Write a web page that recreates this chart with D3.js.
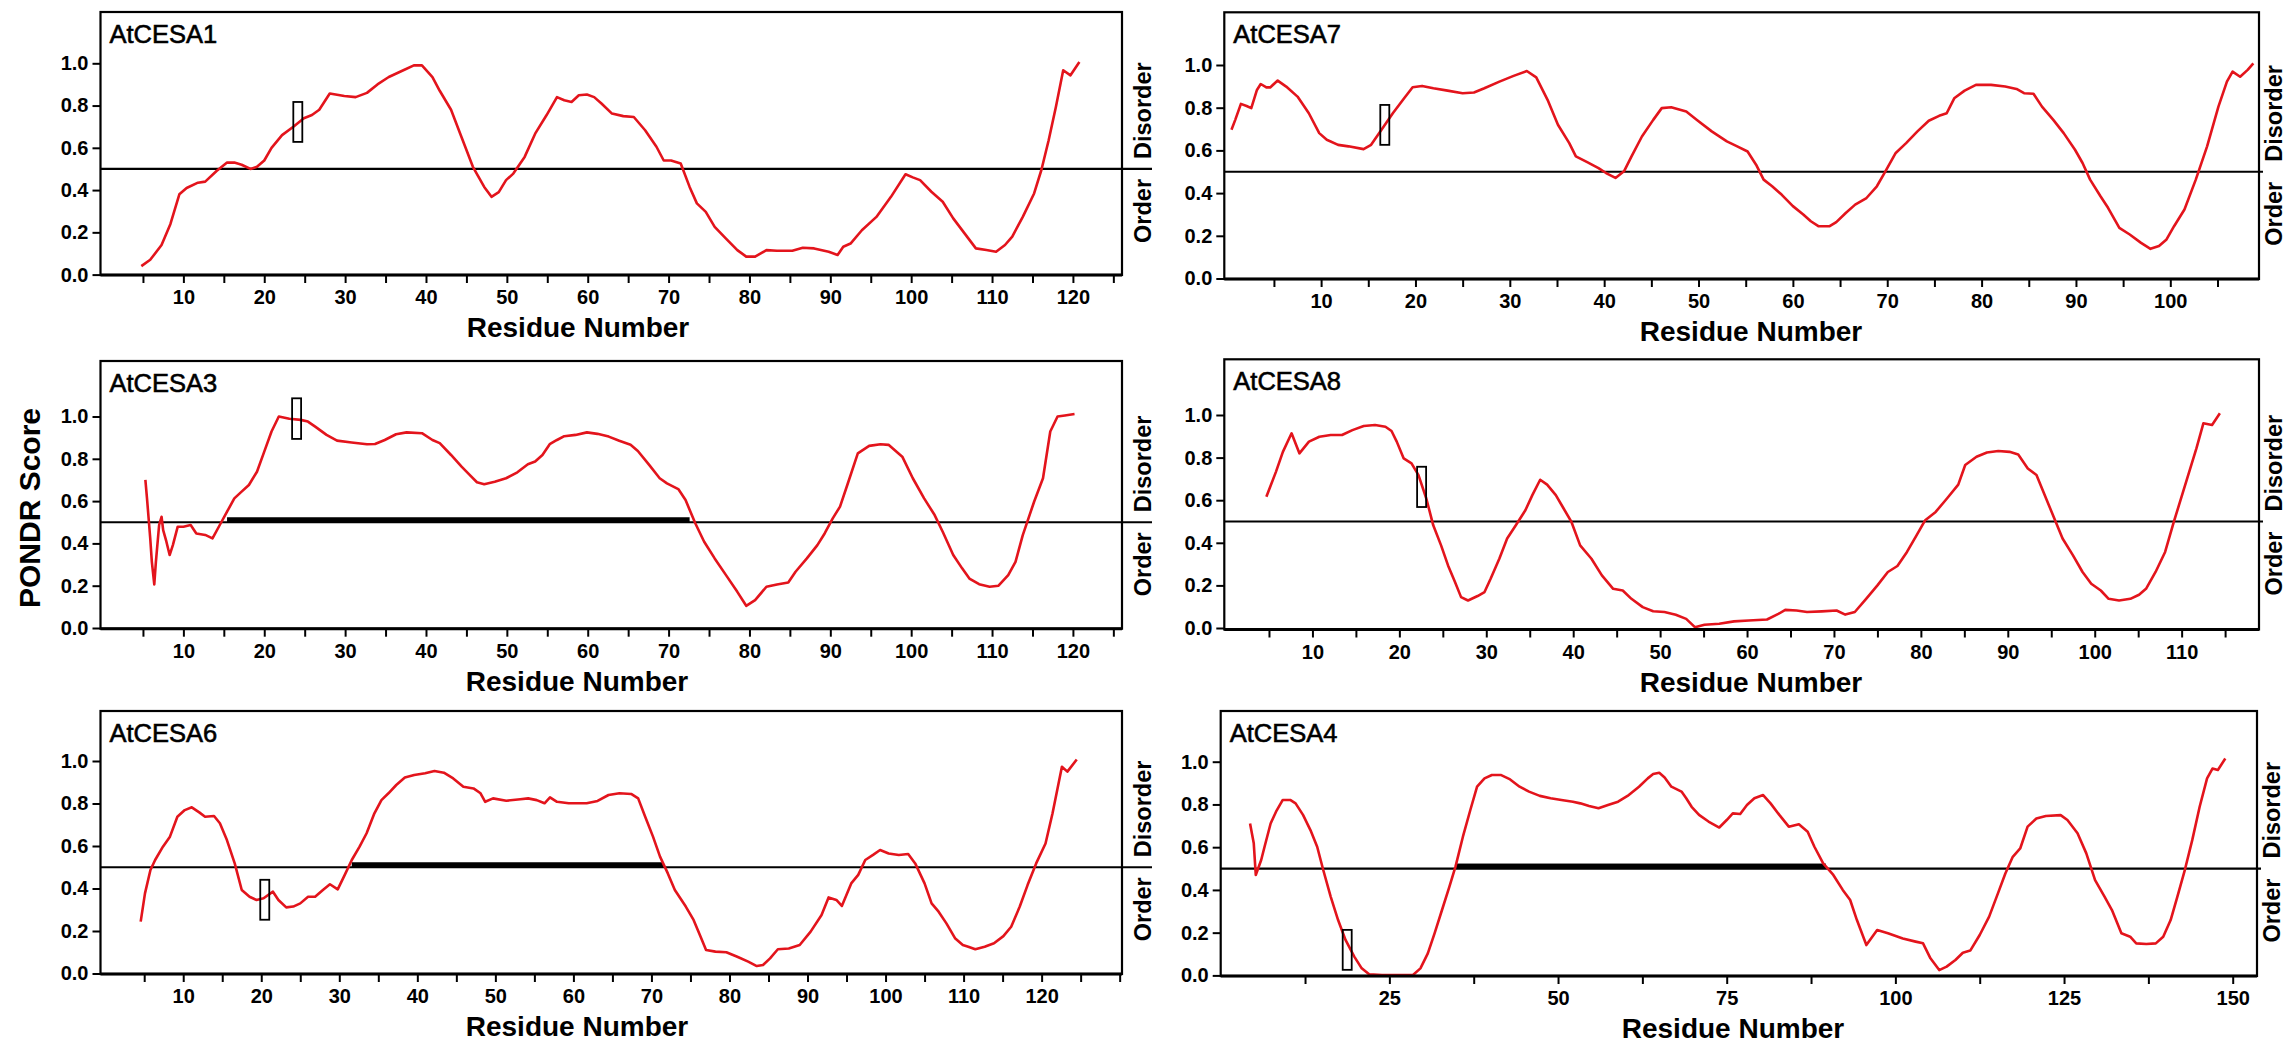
<!DOCTYPE html>
<html><head><meta charset="utf-8">
<script src="https://cdn.jsdelivr.net/npm/d3@7"></script>
<style>body{margin:0;background:#fff}svg{display:block}</style>
</head><body>
<svg id="chart" width="2288" height="1044"></svg>
<script>
// ---------------- DATA ----------------
const panelNames = ["AtCESA1", "AtCESA7", "AtCESA3", "AtCESA8", "AtCESA6", "AtCESA4"];

const cesa1 = [[4.8,0.04],[5.9,0.07],[7.3,0.14],[8.4,0.24],[9.5,0.38],[10.4,0.41],[11.8,0.435],[12.7,0.44],[14.1,0.49],[15.4,0.53],[16.3,0.53],[17.2,0.52],[18.3,0.5],[19.1,0.51],[20,0.54],[20.9,0.6],[22.2,0.66],[23.6,0.7],[24.9,0.74],[25.9,0.755],[26.8,0.78],[28.1,0.857],[29.9,0.845],[31.3,0.84],[32.7,0.86],[34,0.9],[35.4,0.935],[37.2,0.967],[38.5,0.99],[39.5,0.99],[40.8,0.935],[41.7,0.87],[43.1,0.78],[44.4,0.65],[45.8,0.51],[47.2,0.415],[48.1,0.368],[49,0.39],[49.9,0.447],[50.8,0.478],[52.2,0.557],[53.5,0.667],[54.9,0.754],[56.2,0.84],[57.1,0.825],[58,0.817],[58.9,0.849],[59.9,0.852],[60.8,0.84],[61.7,0.81],[63,0.762],[64.4,0.75],[65.7,0.746],[67.1,0.683],[68.5,0.605],[69.4,0.54],[70.3,0.54],[71.5,0.526],[72.6,0.415],[73.5,0.337],[74.6,0.297],[75.7,0.226],[77.1,0.17],[78.5,0.116],[79.6,0.085],[80.7,0.085],[82.1,0.116],[83.4,0.113],[85.3,0.113],[86.6,0.127],[88,0.124],[89.8,0.108],[90.9,0.093],[91.6,0.132],[92.5,0.147],[93.9,0.21],[95.7,0.273],[97.5,0.368],[99.3,0.475],[100.2,0.46],[101.1,0.447],[102.5,0.392],[103.9,0.345],[105.2,0.266],[106.6,0.195],[108,0.124],[109.3,0.116],[110.5,0.108],[111.6,0.14],[112.5,0.18],[113.8,0.273],[115.2,0.384],[116.1,0.495],[117,0.636],[117.9,0.794],[118.8,0.967],[119.7,0.943],[120.8,1.006]];

const cesa7 = [[0.5,0.697],[0.9,0.743],[1.5,0.818],[2.1,0.808],[2.6,0.798],[3.2,0.883],[3.6,0.911],[4.2,0.895],[4.6,0.895],[5.4,0.927],[6.3,0.899],[7.5,0.852],[8.7,0.774],[9.8,0.681],[10.6,0.65],[11.8,0.626],[12.9,0.619],[14.5,0.606],[15.3,0.626],[16.4,0.697],[17.6,0.774],[18.8,0.844],[19.7,0.896],[20.7,0.902],[21.9,0.891],[23.4,0.88],[25,0.868],[26.2,0.871],[27.3,0.891],[28.9,0.922],[30.4,0.949],[31.8,0.972],[32.8,0.942],[34,0.837],[35.1,0.72],[36.3,0.634],[37,0.572],[38.2,0.545],[39.4,0.517],[40.2,0.494],[41.2,0.471],[42.1,0.502],[42.9,0.572],[44,0.665],[45.2,0.743],[46.1,0.798],[47.1,0.802],[48.7,0.782],[49.9,0.74],[51.4,0.689],[53,0.642],[54.1,0.619],[55.2,0.595],[56.1,0.533],[56.9,0.463],[57.8,0.432],[58.8,0.393],[60,0.339],[61.1,0.3],[61.9,0.268],[62.7,0.245],[63.9,0.245],[64.6,0.264],[65.6,0.307],[66.6,0.346],[67.8,0.377],[68.9,0.432],[69.7,0.494],[70.9,0.588],[72,0.634],[73.2,0.689],[74.4,0.739],[75.5,0.762],[76.3,0.774],[77.1,0.844],[78.2,0.88],[79.4,0.907],[81,0.907],[82.5,0.899],[83.7,0.888],[84.5,0.868],[85.5,0.865],[86.4,0.805],[87.6,0.743],[88.7,0.681],[89.9,0.603],[90.7,0.541],[91.5,0.463],[92.6,0.385],[93.4,0.331],[94.6,0.237],[95.7,0.206],[96.9,0.167],[97.9,0.139],[98.8,0.152],[99.6,0.183],[100.4,0.245],[101.5,0.323],[102.7,0.463],[103.9,0.619],[105.1,0.805],[106,0.922],[106.6,0.969],[107.4,0.945],[108.2,0.977],[108.8,1.008]];

const cesa3 = [[5.3,0.7],[5.5,0.613],[5.7,0.519],[5.9,0.424],[6.1,0.313],[6.4,0.206],[6.6,0.313],[7,0.487],[7.3,0.526],[7.5,0.463],[7.9,0.408],[8.3,0.345],[8.7,0.392],[9.3,0.479],[10,0.479],[10.9,0.487],[11.6,0.447],[12.7,0.44],[13.6,0.424],[14.5,0.487],[15.4,0.55],[16.3,0.613],[17.2,0.645],[18.1,0.676],[19.1,0.739],[20,0.834],[20.9,0.929],[21.8,1.0],[23.1,0.989],[24.5,0.984],[25.4,0.976],[26.3,0.952],[27.7,0.913],[29,0.886],[30.8,0.877],[32.7,0.869],[33.7,0.87],[34.9,0.889],[36.3,0.916],[37.6,0.925],[39.5,0.921],[40.8,0.889],[41.7,0.874],[43.1,0.818],[44.4,0.763],[45.4,0.724],[46.3,0.689],[47.2,0.68],[48.5,0.692],[49.9,0.708],[51.3,0.736],[52.6,0.774],[53.5,0.787],[54.4,0.818],[55.3,0.869],[56.2,0.889],[57.1,0.907],[58.5,0.913],[59.9,0.925],[61.2,0.918],[62.6,0.905],[63.9,0.885],[65.3,0.866],[66.2,0.837],[67.6,0.771],[68.9,0.708],[69.8,0.684],[71.2,0.657],[72.1,0.605],[73.3,0.495],[74.4,0.408],[75.7,0.329],[77.1,0.25],[78.5,0.171],[79.6,0.105],[80.7,0.132],[82.1,0.195],[83.4,0.206],[84.8,0.215],[85.7,0.266],[87.1,0.329],[88.4,0.392],[89.3,0.447],[90.3,0.518],[91.2,0.574],[92.1,0.676],[93.4,0.826],[94.8,0.861],[96.2,0.869],[97.2,0.866],[98.9,0.81],[100.2,0.708],[101.6,0.613],[102.9,0.534],[103.9,0.455],[105.2,0.345],[106.3,0.282],[107.2,0.234],[108.4,0.207],[109.7,0.195],[110.8,0.2],[112,0.25],[112.9,0.313],[113.8,0.439],[115.2,0.597],[116.3,0.708],[117.2,0.929],[118.1,1.0],[119,1.005],[120.2,1.012]];

const cesa8 = [[4.7,0.616],[5.8,0.733],[6.6,0.827],[7.6,0.914],[8.5,0.82],[9.6,0.875],[10.8,0.898],[12.1,0.906],[13.4,0.906],[14.6,0.929],[15.9,0.948],[17.2,0.953],[18.4,0.945],[19.1,0.925],[19.7,0.875],[20.5,0.796],[21.4,0.773],[22.2,0.718],[23.1,0.608],[23.9,0.482],[24.8,0.388],[25.6,0.294],[26.4,0.216],[27.1,0.145],[27.9,0.129],[29,0.15],[29.8,0.169],[30.5,0.231],[31.5,0.325],[32.4,0.42],[33.4,0.482],[34.5,0.553],[35.3,0.624],[36.2,0.696],[37,0.673],[38,0.624],[38.9,0.561],[39.8,0.498],[40.8,0.388],[42.1,0.325],[43.3,0.247],[44.6,0.184],[45.7,0.176],[46.7,0.137],[48,0.098],[49.2,0.079],[50.5,0.075],[51.8,0.062],[53,0.043],[54,0.004],[55.1,0.015],[56.8,0.02],[58.5,0.031],[60.2,0.035],[62.3,0.04],[63.6,0.066],[64.4,0.085],[65.7,0.082],[66.9,0.075],[68.6,0.078],[70.3,0.082],[71.3,0.063],[72.4,0.075],[73.7,0.137],[75,0.2],[76.2,0.263],[77.3,0.291],[78.4,0.357],[79.5,0.435],[80.5,0.506],[81.7,0.545],[83,0.608],[84.3,0.673],[85.1,0.765],[86.4,0.804],[87.6,0.824],[88.9,0.831],[90.2,0.827],[91.2,0.815],[92.3,0.749],[93.3,0.718],[94.1,0.639],[95.2,0.529],[96.3,0.42],[97.5,0.341],[98.6,0.263],[99.6,0.208],[100.7,0.176],[101.6,0.137],[102.8,0.129],[104.1,0.137],[105.1,0.156],[105.9,0.184],[107,0.263],[108.1,0.357],[109.1,0.498],[110.4,0.671],[111.7,0.843],[112.5,0.961],[113.5,0.953],[114.4,1.008]];

const cesa6 = [[4.55,0.244],[5.1,0.377],[5.8,0.487],[6.4,0.534],[7.4,0.597],[8.3,0.644],[9.25,0.738],[10.2,0.769],[11.1,0.782],[12.1,0.757],[12.8,0.738],[13.95,0.741],[14.7,0.707],[15.6,0.628],[16.6,0.518],[17.5,0.393],[18.5,0.361],[19.4,0.346],[20.3,0.354],[21.5,0.385],[22.2,0.346],[23.2,0.311],[24.1,0.315],[25,0.33],[26,0.361],[26.9,0.361],[27.9,0.393],[28.8,0.42],[29.8,0.396],[30.7,0.464],[31.6,0.534],[32.6,0.597],[33.5,0.66],[34.5,0.754],[35.4,0.816],[36.3,0.848],[37.3,0.887],[38.4,0.922],[39.6,0.934],[41,0.942],[42.2,0.953],[43.4,0.945],[44.6,0.918],[45.9,0.879],[47.2,0.871],[48.1,0.848],[48.7,0.808],[49.7,0.824],[51.4,0.813],[53.2,0.82],[54.2,0.824],[55.3,0.816],[56.3,0.801],[57,0.829],[57.9,0.808],[59.4,0.801],[61.7,0.801],[63.1,0.812],[64.5,0.84],[65.9,0.848],[67.4,0.845],[68.3,0.824],[69.2,0.738],[70.2,0.644],[71.1,0.55],[72.1,0.471],[73,0.393],[74.4,0.315],[75.4,0.252],[76.3,0.173],[77,0.111],[78.2,0.103],[79.6,0.1],[81,0.079],[82.4,0.056],[83.5,0.035],[84.3,0.04],[85.2,0.071],[86.2,0.114],[87.6,0.118],[89,0.134],[90.4,0.197],[91.8,0.275],[92.7,0.358],[93.7,0.346],[94.4,0.318],[95.6,0.424],[96.5,0.464],[97.4,0.534],[98.4,0.558],[99.3,0.581],[100.4,0.565],[101.7,0.558],[102.9,0.562],[103.8,0.518],[105,0.424],[105.9,0.33],[106.8,0.291],[107.8,0.236],[108.9,0.166],[109.9,0.134],[110.6,0.126],[111.5,0.114],[112.7,0.126],[113.9,0.142],[115.1,0.176],[116.1,0.22],[117.2,0.315],[118.2,0.416],[119.3,0.518],[120.5,0.612],[121.4,0.754],[122.6,0.973],[123.3,0.95],[124.5,1.007]];

const cesa4 = [[4.35,0.711],[4.9,0.618],[5.2,0.47],[6,0.54],[6.5,0.602],[7.4,0.711],[8.2,0.766],[9.2,0.821],[10.3,0.821],[11.1,0.805],[12.2,0.751],[13.3,0.68],[14.3,0.602],[15.2,0.493],[16.3,0.369],[17.4,0.259],[18.5,0.166],[19.8,0.088],[20.9,0.033],[22,0.005],[23.9,0.002],[26.1,0.002],[28.5,0.002],[29.6,0.033],[30.7,0.103],[31.7,0.197],[32.8,0.306],[33.9,0.415],[34.8,0.509],[35.9,0.649],[37,0.774],[38,0.883],[39.1,0.922],[40.2,0.938],[41.5,0.938],[42.9,0.917],[44.3,0.883],[45.7,0.86],[47.3,0.84],[48.9,0.829],[50.5,0.821],[52.2,0.813],[53.3,0.805],[54.6,0.793],[56,0.782],[57.4,0.797],[58.9,0.813],[60.3,0.84],[62,0.883],[63.3,0.922],[64.1,0.942],[65,0.948],[65.8,0.926],[66.8,0.883],[68.3,0.86],[69,0.829],[69.8,0.789],[70.9,0.751],[72.3,0.72],[73.9,0.692],[75,0.727],[75.9,0.758],[77,0.755],[78,0.797],[79.1,0.829],[80.4,0.844],[81.5,0.805],[82.8,0.751],[84.2,0.696],[85.7,0.707],[87,0.672],[88,0.602],[89.3,0.524],[90.8,0.47],[92.2,0.4],[93.3,0.353],[94.3,0.259],[95.7,0.142],[97.3,0.212],[98.9,0.197],[101.1,0.173],[103,0.158],[104.1,0.15],[105.2,0.08],[106.5,0.025],[107.6,0.041],[108.9,0.072],[110,0.106],[111.1,0.116],[112.5,0.189],[113.9,0.275],[115.2,0.384],[116.3,0.477],[117.4,0.555],[118.5,0.594],[119.6,0.696],[120.9,0.734],[122.3,0.746],[124.5,0.75],[125.5,0.727],[127,0.665],[128.3,0.571],[129.6,0.446],[131,0.369],[132.1,0.306],[133.5,0.197],[134.8,0.181],[135.7,0.15],[137.2,0.147],[138.6,0.15],[139.7,0.181],[140.8,0.259],[141.8,0.369],[142.9,0.493],[144,0.633],[145.1,0.789],[146.2,0.922],[147,0.968],[147.8,0.961],[148.9,1.015]];

// marker boxes: [residue centre, low score, high score]
const boxCesa1 = [24.15, 0.628, 0.817];
const boxCesa7 = [16.75, 0.626, 0.813];
const boxCesa3 = [24.0, 0.894, 1.086];
const boxCesa8 = [22.56, 0.568, 0.757];
const boxCesa6 = [20.45, 0.253, 0.441];
const boxCesa4 = [18.75, 0.026, 0.213];

// thick disorder segments: [start residue, end residue]
const barCesa3 = [15.4, 72.6];
const barCesa6 = [31.6, 71.6];
const barCesa4 = [34.8, 89.7];

const threshold = 0.5;
const yTickValues = [0.0, 0.2, 0.4, 0.6, 0.8, 1.0];
const xTicks125 = [5,10,15,20,25,30,35,40,45,50,55,60,65,70,75,80,85,90,95,100,105,110,115,120,125];
const xTicks130 = [5,10,15,20,25,30,35,40,45,50,55,60,65,70,75,80,85,90,95,100,105,110,115,120,125,130];
const xTicks105 = [5,10,15,20,25,30,35,40,45,50,55,60,65,70,75,80,85,90,95,100,105];
const xTicks115 = [5,10,15,20,25,30,35,40,45,50,55,60,65,70,75,80,85,90,95,100,105,110,115];
const xTicks150 = [12.5,25,37.5,50,62.5,75,87.5,100,112.5,125,137.5,150];
const xLabels10 = [10,20,30,40,50,60,70,80,90,100,110,120];
const xLabels25 = [25,50,75,100,125,150];

const yTitle = "PONDR Score";
const xTitle = "Residue Number";
const upperLabel = "Disorder";
const lowerLabel = "Order";

// ---------------- LAYOUT ----------------
const panels = [
  {name: panelNames[0], data: cesa1, box: boxCesa1, bar: null, ticks: xTicks125, labels: xLabels10,
   L: 100.5, R: 1122, T: 12, B: 275, y0: 274.6, y1: 63.3, xd: [-0.25, 126.07], titleX: 578, side: "left"},
  {name: panelNames[1], data: cesa7, box: boxCesa7, bar: null, ticks: xTicks105, labels: xLabels10,
   L: 1224.3, R: 2259, T: 12.3, B: 279, y0: 278.5, y1: 65, xd: [-0.26, 109.4], titleX: 1751, side: "right"},
  {name: panelNames[2], data: cesa3, box: boxCesa3, bar: barCesa3, ticks: xTicks125, labels: xLabels10,
   L: 100.5, R: 1122, T: 361, B: 628.7, y0: 628, y1: 416.5, xd: [-0.25, 126.07], titleX: 577, side: "left"},
  {name: panelNames[3], data: cesa8, box: boxCesa8, bar: null, ticks: xTicks115, labels: xLabels10,
   L: 1224.3, R: 2259, T: 359.3, B: 629.5, y0: 628, y1: 415, xd: [-0.14, 118.9], titleX: 1751, side: "right"},
  {name: panelNames[4], data: cesa6, box: boxCesa6, bar: barCesa6, ticks: xTicks130, labels: xLabels10,
   L: 100.5, R: 1122, T: 711, B: 974, y0: 973.5, y1: 761, xd: [-0.6, 130.3], titleX: 577, side: "left"},
  {name: panelNames[5], data: cesa4, box: boxCesa4, bar: barCesa4, ticks: xTicks150, labels: xLabels25,
   L: 1220.7, R: 2257, T: 711, B: 976, y0: 975.4, y1: 761.7, xd: [0, 153.6], titleX: 1733, side: "right"}
];

const RED = "#e3141c";
const FONT = "'Liberation Sans', Arial, sans-serif";
const svg = d3.select("#chart");

panels.forEach(p => {
  const x = d3.scaleLinear().domain(p.xd).range([p.L, p.R]);
  const y = d3.scaleLinear().domain([0, 1]).range([p.y0, p.y1]);
  const g = svg.append("g");

  // frame
  g.append("rect").attr("x", p.L).attr("y", p.T).attr("width", p.R - p.L).attr("height", p.B - p.T)
    .attr("fill", "none").attr("stroke", "#000").attr("stroke-width", 2.2);

  // threshold line
  const lineEnd = p.side === "left" ? p.R + 30 : p.R + 4;
  g.append("line").attr("x1", p.L).attr("x2", lineEnd)
    .attr("y1", y(threshold)).attr("y2", y(threshold))
    .attr("stroke", "#000").attr("stroke-width", 2.2);

  // thick disorder bar
  if (p.bar) {
    g.append("rect").attr("x", x(p.bar[0])).attr("width", x(p.bar[1]) - x(p.bar[0]))
      .attr("y", y(threshold) - 5).attr("height", 5).attr("fill", "#000");
  }

  // PONDR curve
  const line = d3.line().x(d => x(d[0])).y(d => y(d[1])).curve(d3.curveLinear);
  g.append("path").datum(p.data).attr("d", line)
    .attr("fill", "none").attr("stroke", RED).attr("stroke-width", 2.6)
    .attr("stroke-linejoin", "round");

  // marker box
  g.append("rect").attr("x", x(p.box[0]) - 4.5).attr("width", 9)
    .attr("y", y(p.box[2])).attr("height", y(p.box[1]) - y(p.box[2]))
    .attr("fill", "none").attr("stroke", "#000").attr("stroke-width", 1.8);

  // x axis
  const xAxis = d3.axisBottom(x).tickValues(p.ticks).tickSize(8).tickPadding(7)
    .tickFormat(d => p.labels.includes(d) ? String(d) : "");
  const gx = g.append("g").attr("transform", `translate(0,${p.B})`).call(xAxis);
  gx.select(".domain").remove();
  gx.selectAll(".tick line").attr("stroke", "#000").attr("stroke-width", 2);
  gx.selectAll(".tick text").attr("font-family", FONT).attr("font-weight", "bold")
    .attr("font-size", 20).attr("fill", "#000");

  // y axis
  const yAxis = d3.axisLeft(y).tickValues(yTickValues).tickSize(8).tickPadding(4)
    .tickFormat(d3.format(".1f"));
  const gy = g.append("g").attr("transform", `translate(${p.L},0)`).call(yAxis);
  gy.select(".domain").remove();
  gy.selectAll(".tick line").attr("stroke", "#000").attr("stroke-width", 2);
  gy.selectAll(".tick text").attr("font-family", FONT).attr("font-weight", "bold")
    .attr("font-size", 20).attr("fill", "#000");

  // bottom axis line (thicker)
  g.append("line").attr("x1", p.L).attr("x2", p.R).attr("y1", p.B).attr("y2", p.B)
    .attr("stroke", "#000").attr("stroke-width", 3);

  // panel name
  g.append("text").attr("x", p.L + 9).attr("y", p.T + 31).text(p.name)
    .attr("font-family", FONT).attr("font-size", 25.5).attr("fill", "#000")
    .attr("stroke", "#000").attr("stroke-width", 0.6);

  // x title
  g.append("text").attr("x", p.titleX).attr("y", p.B + 62).attr("text-anchor", "middle")
    .text(xTitle).attr("font-family", FONT).attr("font-weight", "bold")
    .attr("font-size", 28).attr("fill", "#000");

  // Disorder / Order labels
  const bx = p.side === "left" ? p.R + 29 : p.R + 23;
  const ty = y(threshold);
  g.append("text").attr("transform", `translate(${bx},${ty - 10}) rotate(-90)`)
    .attr("text-anchor", "start").text(upperLabel)
    .attr("font-family", FONT).attr("font-weight", "bold").attr("font-size", 23.5).attr("fill", "#000");
  g.append("text").attr("transform", `translate(${bx},${ty + 10}) rotate(-90)`)
    .attr("text-anchor", "end").text(lowerLabel)
    .attr("font-family", FONT).attr("font-weight", "bold").attr("font-size", 23.5).attr("fill", "#000");
});

// shared y title
svg.append("text").attr("transform", "translate(29,508) rotate(-90)")
  .attr("text-anchor", "middle").attr("dominant-baseline", "central")
  .text(yTitle).attr("font-family", FONT).attr("font-weight", "bold")
  .attr("font-size", 30).attr("fill", "#000");
</script>
</body></html>
